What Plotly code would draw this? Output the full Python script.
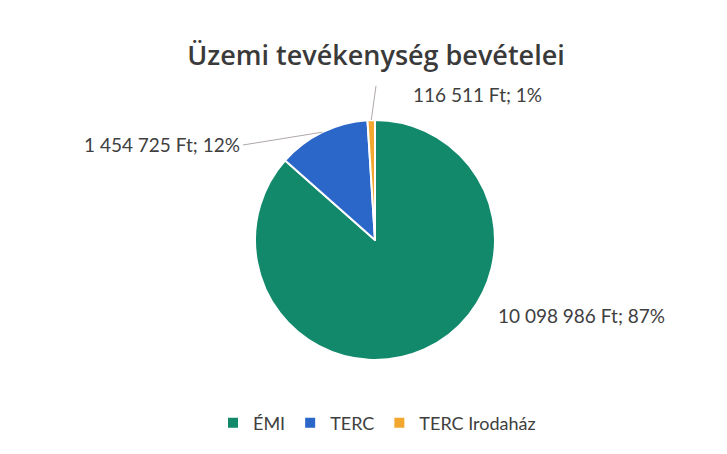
import math
import plotly.graph_objects as go

# ---- data ----
categories = ["ÉMI", "TERC", "TERC Irodaház"]
values = [10098986, 1454725, 116511]
percents = [87, 12, 1]
colors = ["#12896b", "#2b66c9", "#f2a72e"]
title_text = "Üzemi tevékenység bevételei"

W, H = 727, 454
CX, CY, R = 375, 240, 120  # pie centre / radius in pixels


def fmt(v):
    return f"{v:,}".replace(",", " ")


labels_text = [f"{fmt(v)} Ft; {p}%" for v, p in zip(values, percents)]


def px(x):
    return x / W


def py(y):
    return 1 - y / H


fig = go.Figure(go.Pie(
    labels=categories,
    values=values,
    sort=False,
    direction="clockwise",
    rotation=0,
    marker=dict(colors=colors, line=dict(color="white", width=2)),
    textinfo="none",
    hoverinfo="label+value+percent",
    domain=dict(x=[px(CX - R), px(CX + R)], y=[py(CY + R), py(CY - R)]),
))

# mid-angle points of slices (computed from the data)
total = sum(values)
cum = 0
mids = []
for v in values:
    frac_mid = (cum + v / 2) / total
    ang = 2 * math.pi * frac_mid
    mids.append((CX + R * math.sin(ang), CY - R * math.cos(ang)))
    cum += v

label_font = dict(family="Lato, Open Sans, sans-serif", size=19, color="#404040")
line_col = "#b0a8a8"

# ÉMI label (no leader line)
fig.add_annotation(x=px(496), y=py(315), xref="paper", yref="paper",
                   text=labels_text[0], showarrow=False, xanchor="left",
                   yanchor="middle", font=label_font)
# TERC label with leader line
tx, ty = mids[1]
fig.add_shape(type="line", xref="paper", yref="paper",
              x0=px(tx), y0=py(ty), x1=px(243), y1=py(145),
              line=dict(color=line_col, width=1))
fig.add_annotation(x=px(242), y=py(145), xref="paper", yref="paper",
                   text=labels_text[1], showarrow=False, xanchor="right",
                   yanchor="middle", font=label_font)
# TERC Irodaház label with leader line
ox, oy = mids[2]
fig.add_shape(type="line", xref="paper", yref="paper",
              x0=px(ox), y0=py(oy), x1=px(376), y1=py(86),
              line=dict(color=line_col, width=1))
fig.add_annotation(x=px(411), y=py(95), xref="paper", yref="paper",
                   text=labels_text[2], showarrow=False, xanchor="left",
                   yanchor="middle", font=label_font)

fig.update_layout(
    width=W, height=H,
    margin=dict(l=0, r=0, t=0, b=0),
    paper_bgcolor="white",
    plot_bgcolor="white",
    title=dict(text=title_text, x=px(376), xanchor="center",
               y=py(56), yanchor="middle",
               font=dict(family="Open Sans, Lato, sans-serif", size=27,
                         color="#3a3a3a", weight=600)),
    legend=dict(orientation="h", x=px(377), xanchor="center", y=py(423),
                yanchor="middle",
                font=dict(family="Lato, Open Sans, sans-serif", size=18, color="#404040"),
                itemwidth=30),
    showlegend=True,
)

fig.write_html("out.html")
